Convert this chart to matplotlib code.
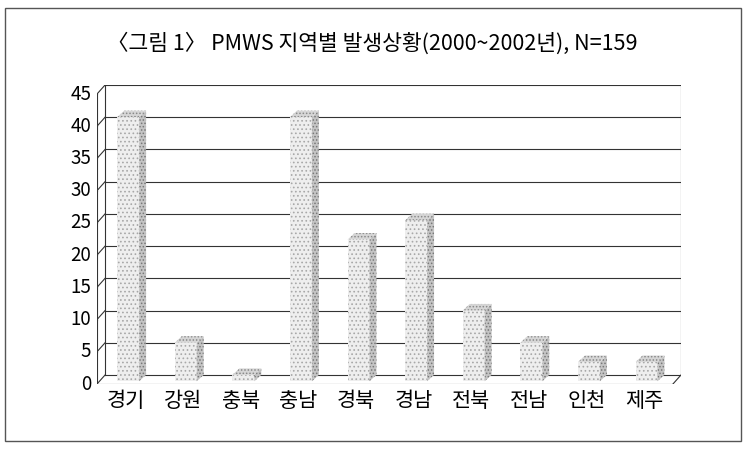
import matplotlib
matplotlib.use("Agg")
import matplotlib.pyplot as plt
from matplotlib.patches import Polygon, Rectangle

plt.rcParams['font.family'] = ['Noto Sans CJK KR', 'DejaVu Sans']
plt.rcParams['hatch.linewidth'] = 0.7

# data
regioes = ["경기", "강원", "충북", "충남", "경북", "경남", "전북", "전남", "인천", "제주"]
casos = [41, 6, 1, 41, 22, 25, 11, 6, 3, 3]
yticks = [0, 5, 10, 15, 20, 25, 30, 35, 40, 45]
titulo = "〈그림 1〉 PMWS 지역별 발생상황(2000~2002년), N=159"

# geometria 3D (unidades de dados)
dx, dy = 0.14, 1.4        # profundidade do piso
w = 0.38                  # largura frontal da barra
s = 0.3                   # posicao da barra na profundidade
bdx, bdy = 0.12, 1.0      # profundidade da barra
ymax = yticks[-1]
n = len(regioes)
x0, x1 = -0.5, n - 0.5

fig = plt.figure(figsize=(7.44, 4.49), dpi=100)
ax = fig.add_axes([97 / 744, 65 / 449, 584 / 744, 299 / 449])
ax.set_xlim(x0, x1 + dx)
ax.set_ylim(0, ymax + dy)
ax.axis('off')

lc = '#333333'
lw = 0.8
# parede de fundo + parede esquerda
for v in yticks:
    ax.plot([x0 + dx, x1 + dx], [v + dy, v + dy], color=lc, lw=lw)
    ax.plot([x0, x0 + dx], [v, v + dy], color=lc, lw=lw)
    ax.plot([x0 - 0.06, x0], [v, v], color=lc, lw=lw)
    ax.text(x0 - 0.1, v, str(v), ha='right', va='center', fontsize=13.5)
ax.plot([x0, x0], [0, ymax], color=lc, lw=lw)
ax.plot([x0 + dx, x0 + dx], [dy, ymax + dy], color=lc, lw=lw)
ax.plot([x1 + dx, x1 + dx], [dy, ymax + dy], color=lc, lw=lw)
# piso
ax.plot([x0, x1], [0, 0], color=lc, lw=lw)
ax.plot([x1, x1 + dx], [0, dy], color=lc, lw=lw)

# barras
for i, (nome, v) in enumerate(zip(regioes, casos)):
    left = i - w / 2 + s * dx
    right = left + w
    base = s * dy
    top = v + base
    ax.add_patch(Rectangle((left, base), w, v, facecolor='#eeeeee',
                           edgecolor='#a8a8a8', lw=0, hatch='....', zorder=3))
    ax.add_patch(Polygon([(right, base), (right + bdx, base + bdy),
                          (right + bdx, top + bdy), (right, top)],
                         facecolor='#c4c4c4', edgecolor='#777777', lw=0,
                         hatch='.....', zorder=3))
    ax.add_patch(Polygon([(left, top), (right, top), (right + bdx, top + bdy),
                          (left + bdx, top + bdy)],
                         facecolor='#d6d6d6', edgecolor='#888888', lw=0,
                         hatch='.....', zorder=3))
    ax.text(i, -1.0, nome, ha='center', va='top', fontsize=15)

fig.text(372 / 744, 1 - 44 / 449, titulo, ha='center', va='center', fontsize=15.5)

# moldura externa
fig.add_artist(Rectangle((5 / 744, 8 / 449), 736 / 744, 433 / 449,
                         transform=fig.transFigure, fill=False,
                         edgecolor='#555555', lw=1.0))

fig.savefig("out.png", dpi=100)
